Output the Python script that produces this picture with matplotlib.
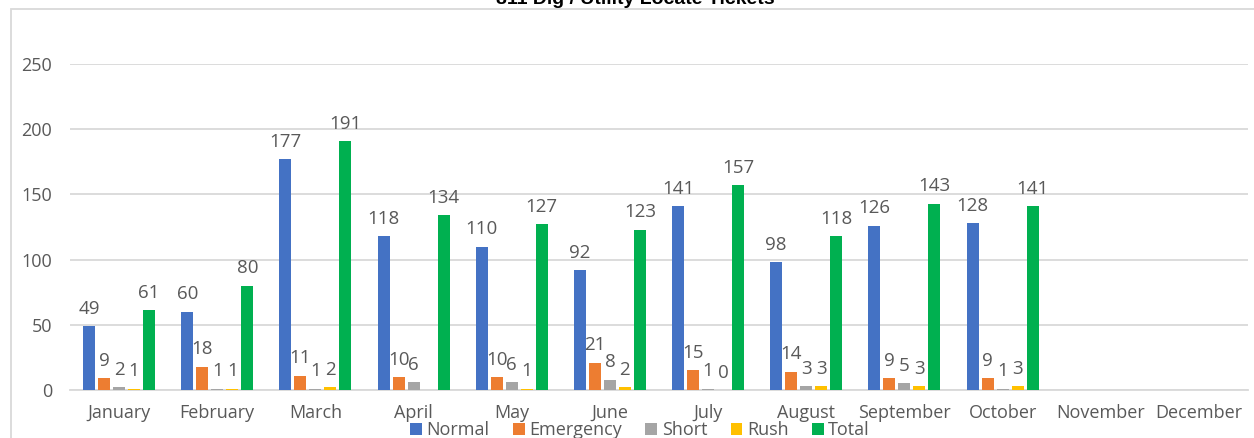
import matplotlib
matplotlib.use("Agg")
import matplotlib.pyplot as plt
from matplotlib.patches import Rectangle
import numpy as np

plt.rcParams['font.family'] = ['Open Sans', 'DejaVu Sans']

months = ['January', 'February', 'March', 'April', 'May', 'June', 'July',
          'August', 'September', 'October', 'November', 'December']
normal = [49, 60, 177, 118, 110, 92, 141, 98, 126, 128]
emergency = [9, 18, 11, 10, 10, 21, 15, 14, 9, 9]
short = [2, 1, 1, 6, 6, 8, 1, 3, 5, 1]
rush = [1, 1, 2, None, 1, 2, 0, 3, 3, 3]
total = [61, 80, 191, 134, 127, 123, 157, 118, 143, 141]

series = [
    ('Normal', normal, '#4472C4'),
    ('Emergency', emergency, '#ED7D31'),
    ('Short', short, '#A5A5A5'),
    ('Rush', rush, '#FFC000'),
    ('Total', total, '#00B050'),
]

W, H = 1254, 438
fig = plt.figure(figsize=(W / 100, H / 100), dpi=100)
ax = fig.add_axes([70 / W, 1 - 390 / H, (1248 - 70) / W, (390 - 64) / H])

x = np.arange(len(months))
pitch = 0.153
width = 0.122

for i, (name, vals, color) in enumerate(series):
    n = len(vals)
    v = np.array([np.nan if val is None else val for val in vals], dtype=float)
    pos = x[:n] + (i - 2) * pitch
    ax.bar(pos, v, width, color=color, label=name, zorder=3)
    # value labels above each bar (a missing value gets none)
    for p, val in zip(pos, vals):
        if val is None:
            continue
        ax.annotate(str(val), (p, val), xytext=(0, 6), textcoords='offset points',
                    ha='center', va='bottom', fontsize=13.5, color='#595959')

ax.set_xlim(-0.5, len(months) - 0.5)
ax.set_ylim(0, 250)
ax.set_yticks(range(0, 251, 50))
ax.set_xticks(x)
ax.set_xticklabels(months)
ax.tick_params(axis='both', length=0, labelsize=13, colors='#595959')
ax.tick_params(axis='y', pad=13)
ax.tick_params(axis='x', pad=10)
ax.grid(axis='y', color='#D9D9D9', linewidth=1.3, zorder=0)
for s in ['top', 'right', 'left']:
    ax.spines[s].set_visible(False)
ax.spines['bottom'].set_color('#D9D9D9')
ax.spines['bottom'].set_linewidth(1.3)

# chart border
fig.add_artist(Rectangle((11 / W, -0.1), 1.2, 1 - 9 / H + 0.1, transform=fig.transFigure,
                         fill=False, edgecolor='#D9D9D9', linewidth=1.3))

fig.text(635 / W, 1 - 4 / H, '811 Dig / Utility Locate Tickets', ha='center', va='baseline',
         fontsize=14, fontweight='bold', family=['Liberation Sans', 'DejaVu Sans'])

fig.legend(loc='center', bbox_to_anchor=(640 / W, 1 - 430 / H), ncol=5, frameon=False,
           fontsize=13, handlelength=0.65, handleheight=0.65, handletextpad=0.25,
           columnspacing=1.3, labelcolor='#595959', borderpad=0)

fig.savefig('out.png', dpi=100)
